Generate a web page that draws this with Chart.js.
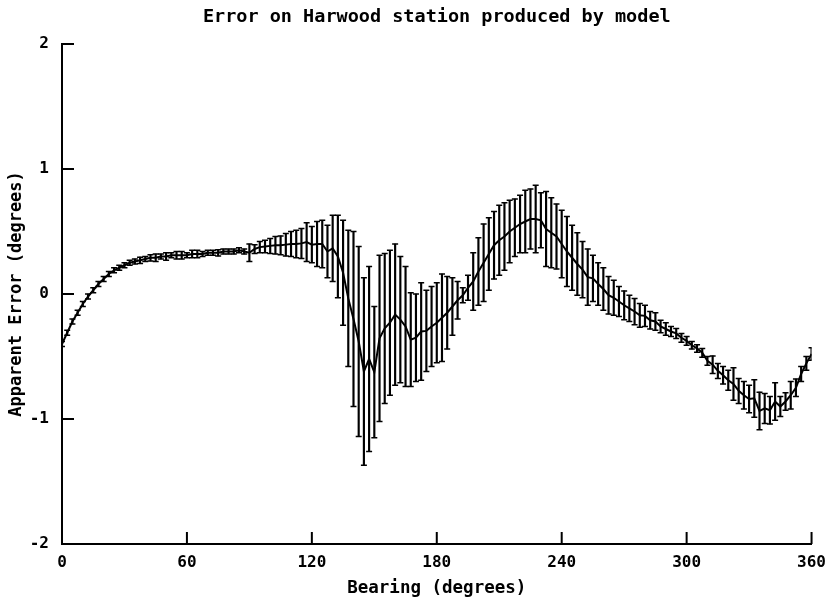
<!DOCTYPE html>
<html lang="en">
<head>
  <meta charset="UTF-8">
  <title>Error on Harwood station produced by model</title>
  <style>
    body {
      margin: 0;
      background: #fff;
    }
    #chart {
      display: block;
    }
  </style>
  <script src="https://cdn.jsdelivr.net/npm/chart.js"></script>
</head>
<body>
  <canvas id="chart" width="835" height="597"></canvas>

  <script>
    // Bearing (degrees) of each measurement
    const bearing = [
      0, 2.5, 5, 7.5, 10, 12.5, 15, 17.5, 20, 22.5,
      25, 27.5, 30, 32.5, 35, 37.5, 40, 42.5, 45, 47.5,
      50, 52.5, 55, 57.5, 60, 62.5, 65, 67.5, 70, 72.5,
      75, 77.5, 80, 82.5, 85, 87.5, 90, 92.5, 95, 97.5,
      100, 102.5, 105, 107.5, 110, 112.5, 115, 117.5, 120, 122.5,
      125, 127.5, 130, 132.5, 135, 137.5, 140, 142.5, 145, 147.5,
      150, 152.5, 155, 157.5, 160, 162.5, 165, 167.5, 170, 172.5,
      175, 177.5, 180, 182.5, 185, 187.5, 190, 192.5, 195, 197.5,
      200, 202.5, 205, 207.5, 210, 212.5, 215, 217.5, 220, 222.5,
      225, 227.5, 230, 232.5, 235, 237.5, 240, 242.5, 245, 247.5,
      250, 252.5, 255, 257.5, 260, 262.5, 265, 267.5, 270, 272.5,
      275, 277.5, 280, 282.5, 285, 287.5, 290, 292.5, 295, 297.5,
      300, 302.5, 305, 307.5, 310, 312.5, 315, 317.5, 320, 322.5,
      325, 327.5, 330, 332.5, 335, 337.5, 340, 342.5, 345, 347.5,
      350, 352.5, 355, 357.5, 360
    ];

    // Apparent error (degrees), mean value
    const meanError = [
      -0.40, -0.31, -0.22, -0.15, -0.08, -0.02, 0.03, 0.08, 0.12, 0.16,
      0.19, 0.21, 0.23, 0.25, 0.26, 0.27, 0.28, 0.29, 0.29, 0.30,
      0.30, 0.31, 0.31, 0.31, 0.31, 0.32, 0.32, 0.32, 0.33, 0.33,
      0.33, 0.34, 0.34, 0.34, 0.35, 0.34, 0.33, 0.36, 0.375, 0.38,
      0.385, 0.39, 0.39, 0.395, 0.40, 0.40, 0.405, 0.415, 0.395, 0.40,
      0.40, 0.34, 0.365, 0.30, 0.17, -0.035, -0.20, -0.38, -0.62, -0.52,
      -0.625, -0.355, -0.275, -0.23, -0.165, -0.205, -0.26, -0.365, -0.35, -0.30,
      -0.295, -0.26, -0.23, -0.19, -0.15, -0.10, -0.05, -0.01, 0.05, 0.10,
      0.18, 0.25, 0.32, 0.39, 0.43, 0.46, 0.50, 0.53, 0.56, 0.58,
      0.60, 0.60, 0.59, 0.52, 0.49, 0.46, 0.40, 0.34, 0.29, 0.24,
      0.195, 0.135, 0.125, 0.08, 0.04, -0.01, -0.03, -0.06, -0.09, -0.115,
      -0.14, -0.17, -0.175, -0.21, -0.22, -0.26, -0.28, -0.30, -0.315, -0.35,
      -0.375, -0.41, -0.435, -0.47, -0.535, -0.565, -0.615, -0.65, -0.69, -0.72,
      -0.775, -0.81, -0.84, -0.835, -0.935, -0.915, -0.93, -0.86, -0.90, -0.86,
      -0.81, -0.75, -0.64, -0.555, -0.48
    ];

    // Half length of each error bar (degrees)
    const errorSize = [
      0.02, 0.02, 0.02, 0.02, 0.02, 0.02, 0.02, 0.02, 0.02, 0.02,
      0.02, 0.02, 0.02, 0.02, 0.02, 0.025, 0.02, 0.025, 0.03, 0.02,
      0.03, 0.02, 0.03, 0.03, 0.02, 0.03, 0.03, 0.02, 0.02, 0.02,
      0.025, 0.02, 0.02, 0.02, 0.02, 0.02, 0.07, 0.035, 0.045, 0.05,
      0.06, 0.07, 0.075, 0.09, 0.10, 0.11, 0.12, 0.155, 0.145, 0.18,
      0.19, 0.21, 0.265, 0.33, 0.42, 0.545, 0.70, 0.76, 0.75, 0.74,
      0.525, 0.665, 0.60, 0.58, 0.565, 0.505, 0.48, 0.375, 0.35, 0.39,
      0.325, 0.32, 0.32, 0.35, 0.29, 0.23, 0.15, 0.06, 0.10, 0.23,
      0.27, 0.31, 0.29, 0.27, 0.28, 0.27, 0.25, 0.23, 0.23, 0.25,
      0.24, 0.27, 0.22, 0.30, 0.28, 0.26, 0.27, 0.28, 0.26, 0.25,
      0.225, 0.225, 0.185, 0.17, 0.17, 0.15, 0.14, 0.12, 0.115, 0.105,
      0.105, 0.095, 0.085, 0.07, 0.07, 0.05, 0.05, 0.04, 0.04, 0.035,
      0.035, 0.03, 0.03, 0.035, 0.035, 0.07, 0.06, 0.07, 0.08, 0.13,
      0.10, 0.11, 0.11, 0.15, 0.15, 0.12, 0.11, 0.15, 0.08, 0.07,
      0.11, 0.07, 0.06, 0.055, 0.05
    ];

    const xTicks = [0, 60, 120, 180, 240, 300, 360];
    const yTicks = [-2, -1, 0, 1, 2];

    const fontFamily = "'DejaVu Sans Mono', monospace";

    const lineData = bearing.map((b, i) => ({ x: b, y: meanError[i] }));
    const barData = bearing.map((b, i) => ({ x: b, y: [meanError[i] - errorSize[i], meanError[i] + errorSize[i]] }));
    const capData = [];
    bearing.forEach((b, i) => {
      capData.push({ x: b, y: meanError[i] + errorSize[i] });
      capData.push({ x: b, y: meanError[i] - errorSize[i] });
    });

    // tick marks pointing into the plot, like the old plotter output
    const innerTicks = {
      id: 'innerTicks',
      afterDraw(chart) {
        const { ctx, chartArea, scales } = chart;
        ctx.save();
        ctx.strokeStyle = '#000';
        ctx.lineWidth = 2;
        ctx.beginPath();
        scales.y.ticks.forEach(t => {
          const y = scales.y.getPixelForValue(t.value);
          ctx.moveTo(chartArea.left, y);
          ctx.lineTo(chartArea.left + 12, y);
        });
        scales.x.ticks.forEach(t => {
          const x = scales.x.getPixelForValue(t.value);
          ctx.moveTo(x, chartArea.bottom);
          ctx.lineTo(x, chartArea.bottom - 12);
        });
        ctx.stroke();
        ctx.restore();
      }
    };

    const ctx = document.getElementById('chart').getContext('2d');
    new Chart(ctx, {
      type: 'scatter',
      data: {
        datasets: [
          {
            type: 'line',
            data: lineData,
            borderColor: '#000',
            borderWidth: 2,
            pointRadius: 0,
            tension: 0
          },
          {
            type: 'bar',
            data: barData,
            backgroundColor: '#000',
            borderWidth: 0,
            barThickness: 1.5
          },
          {
            type: 'scatter',
            data: capData,
            pointStyle: 'line',
            pointRadius: 3,
            borderColor: '#000',
            borderWidth: 1.5
          }
        ]
      },
      options: {
        responsive: false,
        animation: false,
        layout: {
          padding: { top: 0, right: 18, bottom: 0, left: 0 }
        },
        plugins: {
          legend: { display: false },
          tooltip: { enabled: false },
          title: {
            display: true,
            fullSize: false,
            text: 'Error on Harwood station produced by model',
            color: '#000',
            font: { family: fontFamily, size: 18.5, weight: 'bold', lineHeight: 1.2 },
            padding: { top: 6, bottom: 15.8 }
          }
        },
        scales: {
          x: {
            type: 'linear',
            min: 0,
            max: 360,
            offset: false,
            afterBuildTicks: axis => { axis.ticks = xTicks.map(v => ({ value: v })); },
            afterFit: scale => { scale.height = 53; },
            grid: { display: false, drawTicks: false },
            border: { display: true, color: '#000', width: 2 },
            ticks: {
              color: '#000',
              padding: 9,
              maxRotation: 0,
              font: { family: fontFamily, size: 16, weight: 'bold' }
            },
            title: {
              display: true,
              text: 'Bearing (degrees)',
              color: '#000',
              font: { family: fontFamily, size: 17.5, weight: 'bold', lineHeight: 1.0 },
              padding: { top: 0, bottom: 0 }
            }
          },
          y: {
            type: 'linear',
            min: -2,
            max: 2,
            afterBuildTicks: axis => { axis.ticks = yTicks.map(v => ({ value: v })); },
            afterFit: scale => { scale.width = 62; },
            grid: { display: false, drawTicks: false },
            border: { display: true, color: '#000', width: 2 },
            ticks: {
              color: '#000',
              padding: 13,
              font: { family: fontFamily, size: 16, weight: 'bold' }
            },
            title: {
              display: true,
              text: 'Apparent Error (degrees)',
              color: '#000',
              font: { family: fontFamily, size: 17, weight: 'bold', lineHeight: 1.2 },
              padding: { top: 6, bottom: 0 }
            }
          }
        }
      },
      plugins: [innerTicks]
    });
  </script>
</body>
</html>
